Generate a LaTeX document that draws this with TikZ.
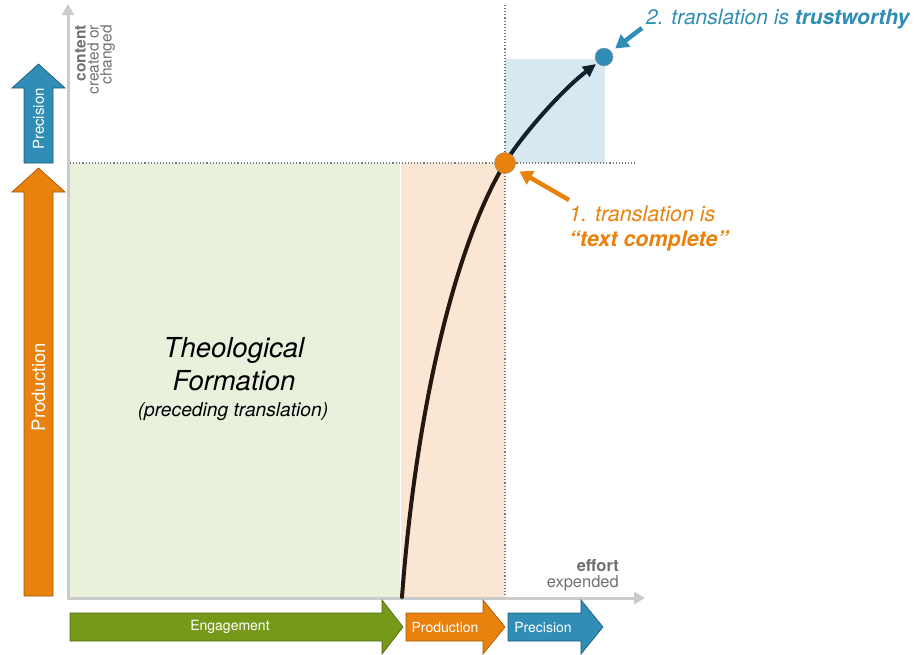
\documentclass[tikz,border=0pt]{standalone}
\usepackage{fontspec}
\setmainfont{TeX Gyre Heros}
\usetikzlibrary{arrows.meta}

\definecolor{engGreen}{HTML}{76991A}
\definecolor{engGreenDark}{HTML}{4F6A10}
\definecolor{prodOrange}{HTML}{E8820C}
\definecolor{prodOrangeDark}{HTML}{A45A08}
\definecolor{precBlue}{HTML}{2F8DB6}
\definecolor{precBlueDark}{HTML}{1D5F7C}
\definecolor{lightGreen}{HTML}{E9F0DC}
\definecolor{lightOrange}{HTML}{FBE5D3}
\definecolor{lightBlue}{HTML}{D8E8F1}
\definecolor{axisGray}{HTML}{CBCBCB}
\definecolor{labelGray}{HTML}{707070}
\definecolor{guideGray}{HTML}{7A7A7A}
\definecolor{curveLow}{HTML}{24170E}
\definecolor{curveHigh}{HTML}{10202C}

\newcommand{\fsz}[1]{\fontsize{#1}{#1}\selectfont}

\tikzset{
  axisline/.style={axisGray, line width=3pt, -{Triangle[length=11pt,width=12pt]}},
  guide/.style={guideGray, line width=1.1pt, dash pattern=on 1.1pt off 2pt},
  blockarrow/.style={line width=0.7pt, line join=miter},
  arrowtext/.style={white, inner sep=0pt},
  milestone/.style={circle, inner sep=0pt, draw=white!60!black, line width=0.3pt},
  pointer/.style={line width=4.5pt, -{Triangle[length=13pt,width=15pt]}},
  progress/.style={line width=4pt, line cap=round},
}

\begin{document}
\begin{tikzpicture}[x=1pt, y=-1pt]
\useasboundingbox (0,0) rectangle (918,654);

% phase regions
\fill[lightGreen]  (70,163)  rectangle (400,597);
\fill[lightOrange] (401,163) rectangle (505,597);
\fill[lightBlue]   (505,59)  rectangle (605,163);

% threshold guides
\coordinate (hstart) at (70,163);
\coordinate (hend)   at (637,163);
\coordinate (vtop)   at (505,5);
\coordinate (vbot)   at (505,598);
\draw[guide] (hstart) -- (hend);
\draw[guide] (vtop) -- (vbot);

% axes
\coordinate (origin) at (68,598);
\coordinate (ytip)   at (68,4);
\coordinate (xtip)   at (645,598);
\draw[axisline] (origin) -- (ytip);
\draw[axisline] ([xshift=-1.5pt]origin) -- (xtip);

% axis labels
\node[rotate=90, anchor=north east, align=right, inner sep=0pt,
      font=\fontsize{15.5}{13}\selectfont, text=labelGray] (ylabel) at (75,25)
  {\textbf{content}\\created or\\changed};
\node[anchor=north east, align=right, inner sep=0pt,
      font=\fontsize{16.5}{16}\selectfont, text=labelGray] (xlabel) at (619,559)
  {\textbf{effort}\\expended};

% vertical phase arrows
\draw[blockarrow, fill=precBlue, draw=precBlueDark]
  (24,163) -- (24,88) -- (12,88) -- (38.5,64) -- (65,88) -- (53,88) -- (53,163) -- cycle;
\node[arrowtext, rotate=90, font=\fsz{15}] (vprec) at (38.5,119) {Precision};
\draw[blockarrow, fill=prodOrange, draw=prodOrangeDark]
  (24,596) -- (24,192) -- (12,192) -- (38.5,168) -- (65,192) -- (53,192) -- (53,596) -- cycle;
\node[arrowtext, rotate=90, font=\fsz{18.5}] (vprod) at (38.5,387) {Production};

% horizontal phase arrows
\draw[blockarrow, fill=engGreen, draw=engGreenDark]
  (70,613) -- (382,613) -- (382,600) -- (403,627) -- (382,654) -- (382,641) -- (70,641) -- cycle;
\node[arrowtext, font=\fsz{14}] (heng) at (230,627) {Engagement};
\draw[blockarrow, fill=prodOrange, draw=prodOrangeDark]
  (406,613) -- (483,613) -- (483,600) -- (505,627) -- (483,654) -- (483,641) -- (406,641) -- cycle;
\node[arrowtext, font=\fsz{14}] (hprod) at (445,627) {Production};
\draw[blockarrow, fill=precBlue, draw=precBlueDark]
  (508,613) -- (581,613) -- (581,600) -- (603,627) -- (581,654) -- (581,641) -- (508,641) -- cycle;
\node[arrowtext, font=\fsz{14}] (hprec) at (543,627) {Precision};

% region caption
\node[align=center, inner sep=0pt, font=\itshape\fontsize{27.5}{33}\selectfont]
  (formation) at (234,364) {Theological\\Formation};
\node[inner sep=0pt, font=\itshape\fontsize{19.2}{20}\selectfont]
  (preceding) at (233,412) {(preceding translation)};

% milestones
\node[milestone, fill=prodOrange, minimum size=21pt] (done)  at (505,163) {};
\node[milestone, fill=precBlue,   minimum size=18pt] (trust) at (604,57) {};

% progress curve
\coordinate (curvestart) at (402,597);
\draw[progress, curveLow] (curvestart) .. controls (416,410) and (455,245) .. (done.center);
\draw[progress, curveHigh, -{Triangle[length=13pt,width=12pt]}]
  (done.center) .. controls (522,135) and (562,90) .. (596,64);
\node[milestone, fill=prodOrange, minimum size=21pt] at (done) {};

% milestone callouts
\coordinate (donetail)  at (569,200);
\coordinate (trusttail) at (642,28);
\draw[pointer, prodOrange, shorten >=6pt] (donetail) -- (done);
\draw[pointer, precBlue, shorten >=5pt] (trusttail) -- (trust);

\node[anchor=north west, align=left, inner sep=0pt, text=prodOrange,
      font=\itshape\fontsize{21.5}{25}\selectfont] (donelabel) at (569,206)
  {1. translation is\\\textbf{“text complete”}};
\node[anchor=west, inner sep=0pt, text=precBlue,
      font=\itshape\fontsize{21}{24}\selectfont] (trustlabel) at (646,19)
  {2. translation is \textbf{trustworthy}};

\end{tikzpicture}
\end{document}
